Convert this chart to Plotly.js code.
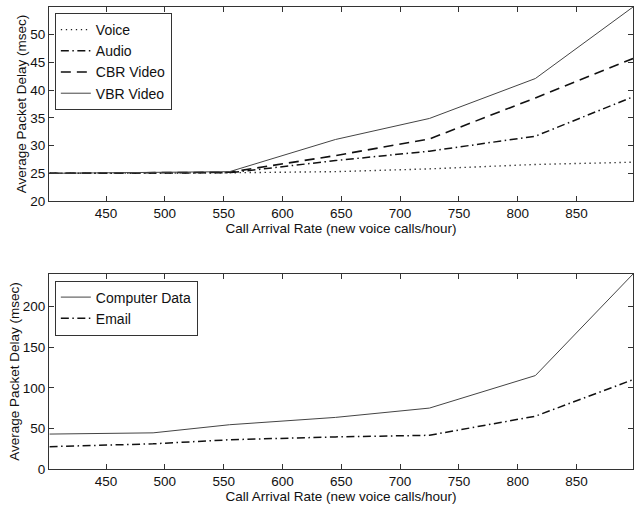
<!DOCTYPE html>
<html><head><meta charset="utf-8">
<script src="https://cdn.plot.ly/plotly-3.0.1.min.js"></script>
<style>body{margin:0;background:#fff}#c{width:634px;height:507px}</style>
</head><body><div id="c"></div>
<script>
// Top panel: real-time traffic
const rateTop = [402, 555, 645, 725, 815, 898];
const voice = [25.0, 25.1, 25.3, 25.8, 26.6, 27.0];
const audio = [25.0, 25.1, 27.3, 29.0, 31.7, 38.8];
const cbr   = [25.0, 25.2, 28.2, 31.2, 38.6, 45.7];
const vbr   = [25.0, 25.3, 31.1, 34.9, 42.1, 55.0];
// Bottom panel: data traffic
const rateBot = [402, 490, 555, 645, 725, 815, 898];
const compData = [43, 44.5, 54.5, 63.5, 75, 115, 240];
const email    = [27.5, 31, 36, 39.5, 41.5, 65, 110];
const xTicks = [450, 500, 550, 600, 650, 700, 750, 800, 850];

const F = 'Liberation Sans, Arial, Helvetica, sans-serif';
const DOT = '1.3px,3.7px', DASHDOT = '8px,3.5px,1.5px,3.5px', DASH = '10px,6px';
const lineBase = {mode: 'lines', hoverinfo: 'skip'};
const traces = [
  Object.assign({}, lineBase, {x: rateTop, y: voice, name: 'Voice', line: {color: '#222', width: 1.4, dash: DOT}, xaxis: 'x', yaxis: 'y', legend: 'legend'}),
  Object.assign({}, lineBase, {x: rateTop, y: audio, name: 'Audio', line: {color: '#111', width: 1.5, dash: DASHDOT}, xaxis: 'x', yaxis: 'y', legend: 'legend'}),
  Object.assign({}, lineBase, {x: rateTop, y: cbr, name: 'CBR Video', line: {color: '#111', width: 1.6, dash: DASH}, xaxis: 'x', yaxis: 'y', legend: 'legend'}),
  Object.assign({}, lineBase, {x: rateTop, y: vbr, name: 'VBR Video', line: {color: '#444', width: 1}, xaxis: 'x', yaxis: 'y', legend: 'legend'}),
  Object.assign({}, lineBase, {x: rateBot, y: compData, name: 'Computer Data', line: {color: '#444', width: 1}, xaxis: 'x2', yaxis: 'y2', legend: 'legend2'}),
  Object.assign({}, lineBase, {x: rateBot, y: email, name: 'Email', line: {color: '#111', width: 1.5, dash: DASHDOT}, xaxis: 'x2', yaxis: 'y2', legend: 'legend2'})
];
const axCommon = {showgrid: false, zeroline: false, showline: true, linecolor: '#333', linewidth: 1,
  mirror: 'allticks', ticks: 'inside', ticklen: 5, tickcolor: '#333', tickfont: {family: F, size: 13.5, color: '#111'}};
const xTitle = {text: 'Call Arrival Rate (new voice calls/hour)', font: {family: F, size: 13.5, color: '#111'}, standoff: 2};
const yTitle = {text: 'Average Packet Delay (msec)', font: {family: F, size: 13.5, color: '#111'}, standoff: 0};
const legCommon = {font: {family: F, size: 14, color: '#111'}, bgcolor: '#fff', bordercolor: '#333', borderwidth: 1,
  xanchor: 'left', yanchor: 'top', tracegroupgap: 0, itemwidth: 30};
const layout = {
  width: 634, height: 507, paper_bgcolor: '#fff', plot_bgcolor: '#fff',
  margin: {l: 49, r: 1, t: 7, b: 38},
  showlegend: true,
  xaxis: Object.assign({}, axCommon, {domain: [0, 1], range: [401.5, 898], tickvals: xTicks, anchor: 'y', title: xTitle}),
  yaxis: Object.assign({}, axCommon, {domain: [0.58, 1], range: [20, 55], dtick: 5, tick0: 20, anchor: 'x', title: yTitle}),
  xaxis2: Object.assign({}, axCommon, {domain: [0, 1], range: [401.5, 898], tickvals: xTicks, anchor: 'y2', title: xTitle}),
  yaxis2: Object.assign({}, axCommon, {domain: [0, 0.422], range: [0, 240], dtick: 50, tick0: 0, anchor: 'x2', title: yTitle}),
  legend: Object.assign({}, legCommon, {x: 0.01, y: 0.987}),
  legend2: Object.assign({}, legCommon, {x: 0.01, y: 0.408})
};
Plotly.newPlot('c', traces, layout, {staticPlot: true, displayModeBar: false});
</script></body></html>
